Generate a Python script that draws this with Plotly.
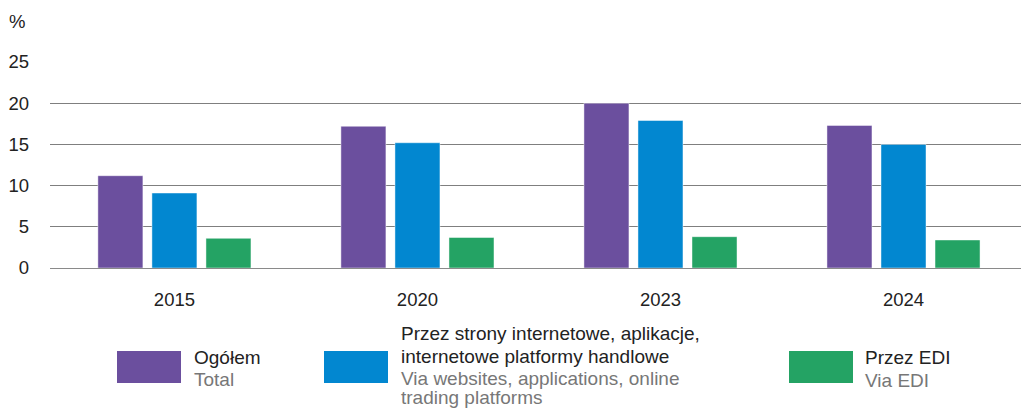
import plotly.graph_objects as go

years = ["2015", "2020", "2023", "2024"]
total = [11.2, 17.2, 20.0, 17.3]
websites = [9.1, 15.2, 17.9, 15.0]
edi = [3.6, 3.7, 3.8, 3.4]
y_ticks = [0, 5, 10, 15, 20, 25]

names_pl = ["Ogółem", "Przez strony internetowe, aplikacje, internetowe platformy handlowe", "Przez EDI"]
colors = ["#6B4F9E", "#0287D0", "#24A364"]

W, H = 1021, 408
ML, MR, MT, MB = 50, 0, 62, 140
PW, PH = W - ML - MR, H - MT - MB

def px(x):
    return (x - ML) / PW

def py(y):
    return (H - MB - y) / PH

FONT = "Liberation Sans, Arial, sans-serif"
DARK = "#222222"
GRAY = "#777777"
TICK = 18.5
LEG = 19

fig = go.Figure()
for name, vals, col in zip(names_pl, [total, websites, edi], colors):
    fig.add_trace(go.Bar(
        x=years, y=vals, name=name,
        marker=dict(color=col, line=dict(color="rgba(255,255,255,0.45)", width=1)),
        showlegend=False, hoverinfo="x+y",
    ))

shapes = []
annotations = []

# "%" unit label
annotations.append(dict(x=px(7), y=py(21), xref="paper", yref="paper", text="%",
                        showarrow=False, xanchor="left", yanchor="middle",
                        font=dict(family=FONT, size=TICK, color=DARK)))

# custom legend
legend_items = [
    (117, 181, 192, [("Ogółem", DARK, 357), ("Total", GRAY, 379)]),
    (324, 388, 399, [("Przez strony internetowe, aplikacje,", DARK, 333),
                     ("internetowe platformy handlowe", DARK, 356),
                     ("Via websites, applications, online", GRAY, 378),
                     ("trading platforms", GRAY, 397)]),
    (789, 853, 863, [("Przez EDI", DARK, 357), ("Via EDI", GRAY, 380)]),
]
for (x0, x1, tx, lines), col in zip(legend_items, colors):
    shapes.append(dict(type="rect", xref="paper", yref="paper",
                       x0=px(x0), x1=px(x1), y0=py(383), y1=py(351),
                       fillcolor=col, line=dict(width=0)))
    for txt, c, yy in lines:
        annotations.append(dict(x=px(tx), y=py(yy), xref="paper", yref="paper", text=txt,
                                showarrow=False, xanchor="left", yanchor="middle",
                                font=dict(family=FONT, size=LEG, color=c)))

fig.update_layout(
    width=W, height=H,
    margin=dict(l=ML, r=MR, t=MT, b=MB, pad=0),
    paper_bgcolor="white", plot_bgcolor="white",
    bargap=0.333, bargroupgap=0.167,
    barmode="group",
    font=dict(family=FONT, size=TICK, color=DARK),
    shapes=shapes, annotations=annotations,
    xaxis=dict(type="category", range=[-0.512, 3.4835], showgrid=False, showline=False,
               ticks="", tickfont=dict(size=TICK, color=DARK), ticklabelstandoff=18,
               fixedrange=True),
    yaxis=dict(range=[0, 25], tickvals=y_ticks, showgrid=True, gridcolor="#7f7f7f",
               gridwidth=1, zeroline=True, zerolinecolor="#8a8a8a", zerolinewidth=1,
               showline=False, ticks="", tickfont=dict(size=TICK, color=DARK),
               ticklabelstandoff=20, fixedrange=True),
)

fig.write_html("out.html", config={"displayModeBar": False},
               post_script="document.body.style.margin='0';document.body.style.overflow='hidden';")
